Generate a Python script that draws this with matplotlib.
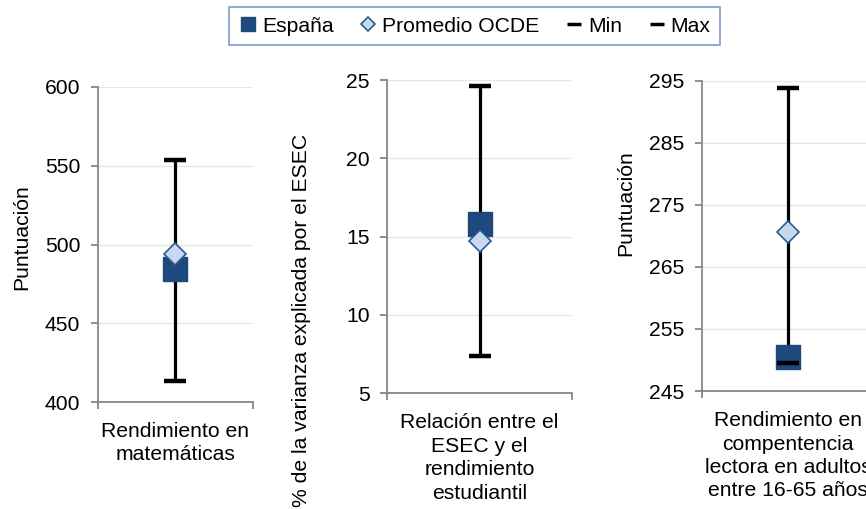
import matplotlib
matplotlib.use('Agg')
import matplotlib.pyplot as plt
from matplotlib.lines import Line2D
from matplotlib.transforms import blended_transform_factory, offset_copy

plt.rcParams['font.family'] = ['Liberation Sans', 'DejaVu Sans']

# ---- data ----
categories = ['Rendimiento en\nmatemáticas',
              'Relación entre el\nESEC y el\nrendimiento\nestudiantil',
              'Rendimiento en\ncompentencia\nlectora en adultos\nentre 16-65 años']
y_labels = ['Puntuación', '% de la varianza explicada por el ESEC', 'Puntuación']
espana = [484.4, 15.8, 250.5]
ocde = [493.8, 14.7, 270.7]
mins = [413.1, 7.4, 249.5]
maxs = [553.5, 24.6, 293.8]
y_ticks = [[400, 450, 500, 550, 600],
           [5, 10, 15, 20, 25],
           [245, 255, 265, 275, 285, 295]]

# ---- style ----
W, H = 866, 509
FS = 15.2
DARK = '#1F497D'
LIGHT = '#C6D9F1'
DEDGE = '#2E5C8A'
GRID = '#E6E6E6'
AXC = '#868686'

fig = plt.figure(figsize=(W / 100, H / 100), dpi=100)

# axes rectangles in pixels: left, top, right, bottom
rects = [(97.7, 87.0, 253.0, 402.0),
         (387.3, 80.0, 572.0, 393.3),
         (701.7, 80.7, 875.0, 391.0)]
# y label centers in pixels (x, y)
ylab_pos = [(22, 237), (301.7, 320), (626, 203)]

for i in range(3):
    l, t, r, b = rects[i]
    ax = fig.add_axes([l / W, 1 - b / H, (r - l) / W, (b - t) / H])
    ax.set_xlim(0, 1)
    ax.set_ylim(y_ticks[i][0], y_ticks[i][-1])
    ax.set_yticks(y_ticks[i])
    ax.set_xticks([0, 1])
    ax.set_xticklabels([])
    ax.yaxis.grid(True, color=GRID, lw=1.0)
    ax.set_axisbelow(True)
    for s in ['top', 'right']:
        ax.spines[s].set_visible(False)
    for s in ['left', 'bottom']:
        ax.spines[s].set_color(AXC)
        ax.spines[s].set_linewidth(1.3)
    ax.tick_params(axis='both', colors=AXC, length=5, width=1.3, labelsize=FS,
                   labelcolor='black', pad=7.5)
    x = 0.5
    ax.vlines(x, mins[i], maxs[i], color='black', lw=2.3, zorder=3)
    ax.plot([x], [espana[i]], marker='s', ms=17.5, color=DARK, mec=DARK,
            ls='none', zorder=4, clip_on=False)
    ax.plot([x], [ocde[i]], marker='D', ms=11.5, mfc=LIGHT, mec=DEDGE, mew=1.2,
            ls='none', zorder=5, clip_on=False)
    ax.plot([x], [mins[i]], marker='_', ms=16.5, mew=3.2, color='black',
            ls='none', zorder=6, clip_on=False)
    ax.plot([x], [maxs[i]], marker='_', ms=16.5, mew=3.2, color='black',
            ls='none', zorder=6, clip_on=False)
    # category label below axis
    tr = blended_transform_factory(ax.transData, ax.transAxes)
    tr = offset_copy(tr, fig=fig, x=0, y=-20, units='dots')
    ax.text(x, 0, categories[i], transform=tr, ha='center', va='top',
            fontsize=FS, linespacing=1.3)
    # y label
    lx, ly = ylab_pos[i]
    fig.text(lx / W, 1 - ly / H, y_labels[i], rotation=90, ha='center',
             va='center', fontsize=FS)

handles = [
    Line2D([], [], marker='s', ms=10, color=DARK, ls='none'),
    Line2D([], [], marker='D', ms=7, mfc=LIGHT, mec=DEDGE, mew=1.2, ls='none'),
    Line2D([], [], marker='_', ms=10, mew=2.5, color='black', ls='none'),
    Line2D([], [], marker='_', ms=10, mew=2.5, color='black', ls='none'),
]
leg = fig.legend(handles, ['España', 'Promedio OCDE', 'Min', 'Max'],
                 loc='center', bbox_to_anchor=(474.5 / W, 1 - 26 / H), ncol=4,
                 frameon=True, fancybox=False, fontsize=FS, handlelength=0.9,
                 handletextpad=0.2, columnspacing=1.2, borderpad=0.45)
leg.get_frame().set_edgecolor('#5B84C0')
leg.get_frame().set_linewidth(1.2)

fig.savefig('out.png', dpi=100)
